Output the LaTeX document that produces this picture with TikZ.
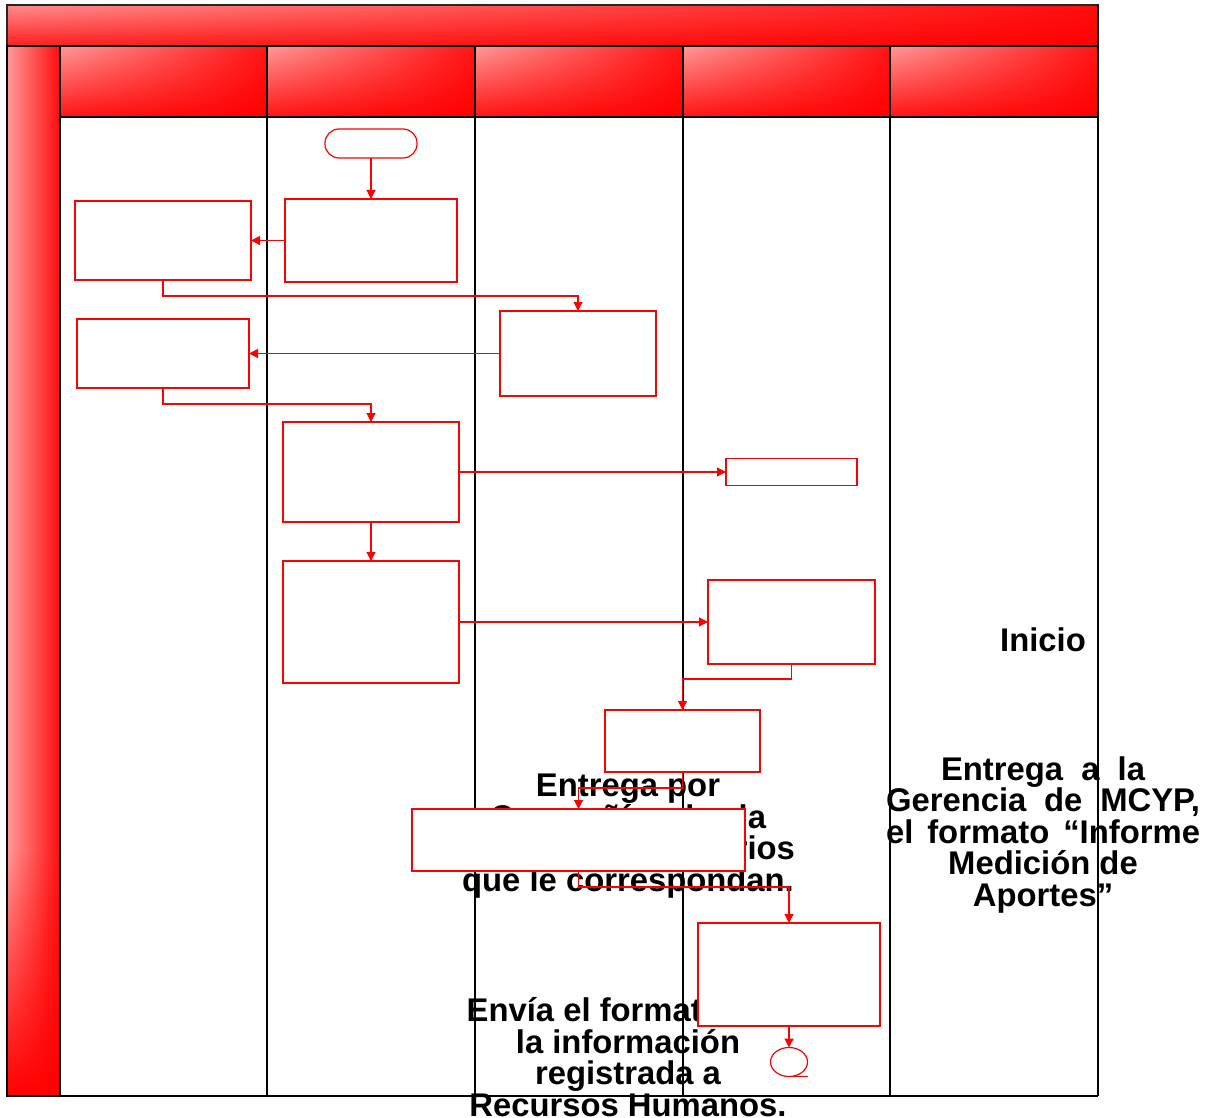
\documentclass[tikz,border=0pt]{standalone}
\usepackage{fontspec}
\setmainfont{Liberation Sans}
\usetikzlibrary{arrows.meta,shapes.geometric,shadings}
\begin{document}
\begin{tikzpicture}[x=1pt,y=-1pt,
  flowbox/.style={draw=red, line width=1.2pt, fill=white, rectangle, inner sep=0pt, outer sep=0pt},
  startbox/.style={flowbox, rounded corners=14pt},
  endbox/.style={draw=red, line width=1.2pt, fill=white, ellipse, inner sep=0pt, outer sep=0pt},
  flow/.style={draw=red, line width=1.2pt, -{Triangle[length=9pt,width=9pt]}},
  lane/.style={draw=black, line width=1.3pt},
  headcell/.style={upper left=red!40!white, upper right=red!92!white, lower left=red!92!white, lower right=red},
  lbl/.style={font=\bfseries\fontsize{32.8pt}{31.5pt}\selectfont, align=center, inner sep=0pt}
]
\useasboundingbox (0,0) rectangle (1217,1118);

% title bar
\shade[upper left=red!45!white, upper right=red!95!white, lower left=red!88!white, lower right=red] (7,5) rectangle (1098,46);
\draw[line width=1.2pt, black!85] (7,5) rectangle (1098,46);

% lane header cells
\foreach \xa/\xb in {60/267, 267/475, 475/683, 683/890, 890/1098} {
  \shade[headcell] (\xa,46) rectangle (\xb,117);
  \draw[line width=1.3pt, black] (\xa,46) rectangle (\xb,117);
}

% left bar
\shade[left color=red!40!white, right color=red!95!white] (7,46) rectangle (60,850);
\shade[upper left=red!40!white, upper right=red!95!white, lower left=red, lower right=red] (7,850) rectangle (60,1096);
\draw[line width=1.3pt, black] (7,46) rectangle (60,1096);

% texts
\node[lbl] (inicio) at (1043,640) {Inicio};
\node[lbl] (entregager) at (1043,835) {\makebox[204pt][s]{Entrega a la}\\ \makebox[314pt][s]{Gerencia de MCYP,}\\ \makebox[314pt][s]{el formato “Informe}\\ Medición de\\ Aportes”};
\node[lbl] (entregapor) at (628,836) {Entrega por\\ \makebox[276pt][s]{Compañía de la}\\ \makebox[334pt][s]{aportes voluntarios}\\ que le correspondan.};
\node[lbl] (envia) at (628,1057) {Envía el formato con\\ la información\\ registrada a\\ Recursos Humanos.};

% lanes
\foreach \x in {267,475,683,890} \draw[lane] (\x,117) -- (\x,1096);
\draw[lane] (1098,5) -- (1098,1096);
\draw[lane] (7,1096) -- (1098,1096);

% process boxes
\node[startbox, minimum width=92pt, minimum height=29pt] (start) at (371,143.5) {};
\node[flowbox, minimum width=172pt, minimum height=83pt] (a) at (371,240.5) {};
\node[flowbox, minimum width=176pt, minimum height=79pt] (b) at (163,240.5) {};
\node[flowbox, minimum width=156pt, minimum height=85pt] (c) at (578,353.5) {};
\node[flowbox, minimum width=172pt, minimum height=69pt] (d) at (163,353.5) {};
\node[flowbox, minimum width=176pt, minimum height=100pt] (e) at (371,472) {};
\node[flowbox, minimum width=131pt, minimum height=27pt] (f) at (791.5,472) {};
\node[flowbox, minimum width=176pt, minimum height=122pt] (g) at (371,622) {};
\node[flowbox, minimum width=167pt, minimum height=84pt] (h) at (791.5,622) {};
\node[flowbox, minimum width=155pt, minimum height=62pt] (i) at (682.5,741) {};
\node[flowbox, minimum width=333pt, minimum height=62pt] (j) at (578.5,840) {};
\node[flowbox, minimum width=182pt, minimum height=103pt] (k) at (789,974.5) {};
\node[endbox, minimum width=37pt, minimum height=29pt] (fin) at (789,1062) {};
\draw[red, line width=1.2pt] (fin.south) -- ++(19,0);

% connectors
\draw[flow] (start) -- (a);
\draw[flow] (a) -- (b);
\draw[flow] (b.south) -- ++(0,16) -| (c.north);
\draw[flow] (c) -- (d);
\draw[flow] (d.south) -- ++(0,16) -| (e.north);
\draw[flow] (e) -- (f);
\draw[flow] (e) -- (g);
\draw[flow] (g) -- (h);
\draw[flow] (h.south) -- ++(0,15) -| (i.north);
\draw[flow] (i.south) -- ++(0,16) -| (j.north);
\draw[flow] (j.south) -- ++(0,16) -| (k.north);
\draw[flow] (k) -- (fin);
\end{tikzpicture}
\end{document}
